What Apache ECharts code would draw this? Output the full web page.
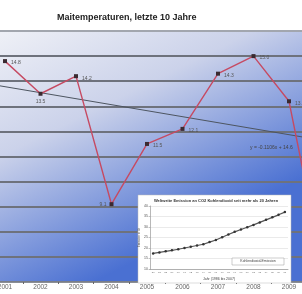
<!DOCTYPE html>
<html>
<head>
<meta charset="utf-8">
<script src="https://cdn.jsdelivr.net/npm/echarts@6/dist/echarts.min.js"></script>
<style>
html, body { margin: 0; padding: 0; background: #fff; }
#chart { width: 302px; height: 294px; }
</style>
</head>
<body>
<div id="chart"></div>
<script>
// Maitemperaturen (°C)
var years = [2001, 2002, 2003, 2004, 2005, 2006, 2007, 2008, 2009, 2010];
var temps = [14.8, 13.5, 14.2, 9.1, 11.5, 12.1, 14.3, 15.0, 13.2, 6.2];

// lineare Trendlinie, Endpunkte
var trendYears = [2000, 2010];
var trendTemps = [14.02, 11.63];
var trendLabel = "y = -0.1106x + 14.6";

// eingebettete CO2-Grafik
var co2Years = [1986, 1987, 1988, 1989, 1990, 1991, 1992, 1993, 1994, 1995, 1996,
  1997, 1998, 1999, 2000, 2001, 2002, 2003, 2004, 2005, 2006, 2007];
var co2Values = [17.4, 17.9, 18.4, 18.9, 19.4, 20.0, 20.6, 21.2, 21.8, 22.8, 23.8,
  25.1, 26.4, 27.7, 28.8, 29.9, 31.0, 32.2, 33.4, 34.6, 35.8, 37.1];

var font = "Liberation Sans";
var chart = echarts.init(document.getElementById("chart"));

// wo die Werte-Beschriftung am Punkt steht
var labelPlace = { 2002: "bottom", 2004: "left" };

var tempData = years.map(function (y, i) {
  var pos = labelPlace[y] || "right";
  return {
    value: [y, temps[i]],
    label: { position: pos, offset: pos === "right" ? [1, 2] : [0, 0] }
  };
});

var trendData = trendYears.map(function (y, i) { return [y, trendTemps[i]]; });

var gridColors = ["#7a7e88", "#6e727c", "#6e727c", "#6e727c", "#6e727c", "#6e727c",
  "#6e727c", "#6e727c", "#6e727c", "#6e727c", "#a2a6ae"];

chart.setOption({
  animation: false,
  textStyle: { fontFamily: font },
  title: {
    text: "Maitemperaturen, letzte 10 Jahre",
    left: 52, top: 8,
    textStyle: { fontSize: 9, fontWeight: "bold", color: "#222", fontFamily: font }
  },
  grid: [
    {
      left: -30.5, right: -22.5, top: 31, bottom: 12,
      outerBoundsMode: "none", containLabel: false,
      show: true, borderWidth: 0,
      backgroundColor: new echarts.graphic.LinearGradient(0, 0, 0.35, 1, [
        { offset: 0, color: "#f3f4f8" },
        { offset: 0.45, color: "#cbd2ea" },
        { offset: 1, color: "#4a70d2" }
      ])
    },
    { left: 150, right: 14, top: 206, bottom: 25, z: 5, outerBoundsMode: "none", containLabel: false }
  ],
  xAxis: [
    {
      type: "value", min: 2000, max: 2010, interval: 1,
      axisLine: { lineStyle: { color: "#8a8e96", width: 1 } },
      axisTick: { show: false },
      minorTick: { show: true, splitNumber: 2, length: 2, lineStyle: { color: "#666" } },
      splitLine: { show: false },
      axisLabel: { fontSize: 6.5, color: "#666", margin: 2, formatter: function (v) { return String(v); } }
    },
    {
      type: "category", gridIndex: 1, data: co2Years, z: 5,
      axisLine: { lineStyle: { color: "#888", width: 0.6 } },
      axisTick: { length: 1.5, lineStyle: { color: "#888", width: 0.5 } },
      axisLabel: { fontSize: 2.5, color: "#666", margin: 1.5, interval: 0,
        formatter: function (v) { return String(v).slice(2); } },
      name: "Jahr (1986 bis 2007)", nameLocation: "middle", nameGap: 8,
      nameTextStyle: { fontSize: 3.5, color: "#444" }
    }
  ],
  yAxis: [
    {
      type: "value", min: 6, max: 16, interval: 1,
      axisLine: { show: false }, axisTick: { show: false }, axisLabel: { show: false },
      splitLine: { lineStyle: { color: gridColors, width: 1.8 } }
    },
    {
      type: "value", gridIndex: 1, min: 10, max: 40, interval: 5, z: 5,
      axisLine: { show: true, lineStyle: { color: "#888", width: 0.6 } },
      axisTick: { show: true, length: 1.5, lineStyle: { color: "#888", width: 0.5 } },
      axisLabel: { fontSize: 3.5, color: "#555", margin: 2 },
      splitLine: { lineStyle: { color: "#dcdcdc", width: 0.6 } },
      name: "Emission in Gt", nameLocation: "middle", nameRotate: 90, nameGap: 8,
      nameTextStyle: { fontSize: 3, color: "#555" }
    }
  ],
  series: [
    {
      type: "line", data: trendData, symbol: "none", z: 1,
      lineStyle: { color: "#4d5560", width: 1 }
    },
    {
      type: "line", data: tempData, symbol: "rect", symbolSize: 4,
      itemStyle: { color: "#3a2a30" },
      lineStyle: { color: "#c64a62", width: 1.4 },
      label: {
        show: true, fontSize: 5, color: "#555", distance: 3,
        formatter: function (p) { return p.value[1].toFixed(1); }
      }
    },
    {
      type: "line", xAxisIndex: 1, yAxisIndex: 1, data: co2Values, z: 6,
      symbol: "circle", symbolSize: 2.5,
      itemStyle: { color: "#333" },
      lineStyle: { color: "#555", width: 1.2 }
    }
  ],
  graphic: [
    {
      type: "rect", z: 3,
      shape: { x: 138, y: 195, width: 153, height: 88 },
      style: { fill: "#fff", stroke: "#b8b8b8", lineWidth: 0.5 }
    },
    {
      type: "text", z: 7, x: 216, y: 201,
      style: {
        text: "Weltweite Emission an CO2 Kohlendioxid seit mehr als 20 Jahren",
        fontSize: 4, fontWeight: "bold", fontFamily: font, fill: "#333",
        align: "center", verticalAlign: "middle"
      }
    },
    {
      type: "rect", z: 7,
      shape: { x: 232, y: 258, width: 52, height: 7 },
      style: { fill: "#fff", stroke: "#999", lineWidth: 0.5 }
    },
    {
      type: "text", z: 8, x: 258, y: 261.5,
      style: {
        text: "Kohlendioxid-Emission", fontSize: 3.5, fontFamily: font, fill: "#444",
        align: "center", verticalAlign: "middle"
      }
    },
    {
      type: "text", z: 7, x: 250, y: 148,
      style: {
        text: trendLabel, fontSize: 5, fontFamily: font, fill: "#444",
        align: "left", verticalAlign: "middle"
      }
    }
  ]
});
</script>
</body>
</html>
